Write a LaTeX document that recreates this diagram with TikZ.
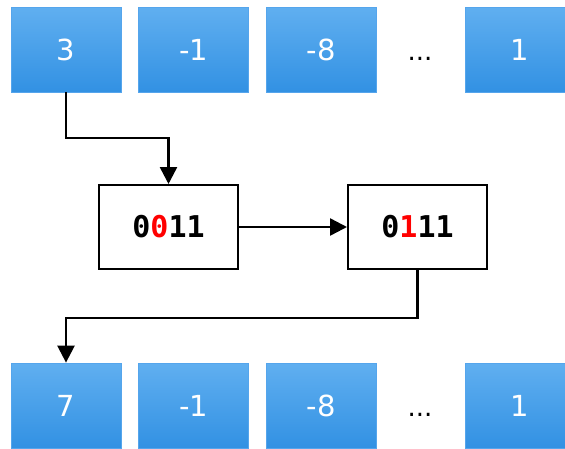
\documentclass[tikz,border=0pt]{standalone}
\usepackage{fontspec}
\setmainfont{DejaVu Sans}
\newfontfamily\bitfont{DejaVu Sans Mono}
\usetikzlibrary{arrows.meta}
\definecolor{celltop}{HTML}{60AFF0}
\definecolor{cellbot}{HTML}{3291E3}
\definecolor{celledge}{HTML}{55A5EC}
\definecolor{bitred}{HTML}{FF0000}
\tikzset{
  cell/.style={draw=celledge, line width=0.8pt, top color=celltop, bottom color=cellbot,
    minimum width=110pt, minimum height=85pt, inner sep=0pt,
    text=white, font=\fontsize{29}{30}\selectfont},
  gap/.style={inner sep=0pt, anchor=base, font=\fontsize{26}{30}\selectfont},
  regbox/.style={draw=black, line width=2pt, fill=white,
    minimum width=139pt, minimum height=84pt, inner sep=0pt,
    font=\bitfont\bfseries\fontsize{30}{30}\selectfont},
  arr/.style={draw=black, line width=2.5pt, -{Triangle[length=17pt,width=17pt]}},
}
\begin{document}
\begin{tikzpicture}[x=1pt,y=-1pt]
\clip (0,0) rectangle (565,448);
\fill[white] (0,0) rectangle (565,448);

% input array
\node[cell] (t1) at (66,49.5) {3};
\node[cell] (t2) at (193.5,49.5) {-1};
\node[cell] (t3) at (321,49.5) {-8};
\node[gap]  (t4) at (420,60) {...};
\node[cell] (t5) at (520,49.5) {1};

% bit registers
\node[regbox] (A) at (168.5,227) {0\textcolor{bitred}{0}11};
\node[regbox] (B) at (417.5,227) {0\textcolor{bitred}{1}11};

% output array
\node[cell] (b1) at (66,405.5) {7};
\node[cell] (b2) at (193.5,405.5) {-1};
\node[cell] (b3) at (321,405.5) {-8};
\node[gap]  (b4) at (420,416) {...};
\node[cell] (b5) at (520,405.5) {1};

% routing levels
\coordinate (k1) at (0,138);
\coordinate (k2) at (0,318);

\draw[arr] (t1.south) -- (t1.south |- k1) -| (A.north);
\draw[arr] (A.east) -- (B.west);
\draw[arr] (B.south) |- (b1.north |- k2) -- (b1.north);
\end{tikzpicture}
\end{document}
